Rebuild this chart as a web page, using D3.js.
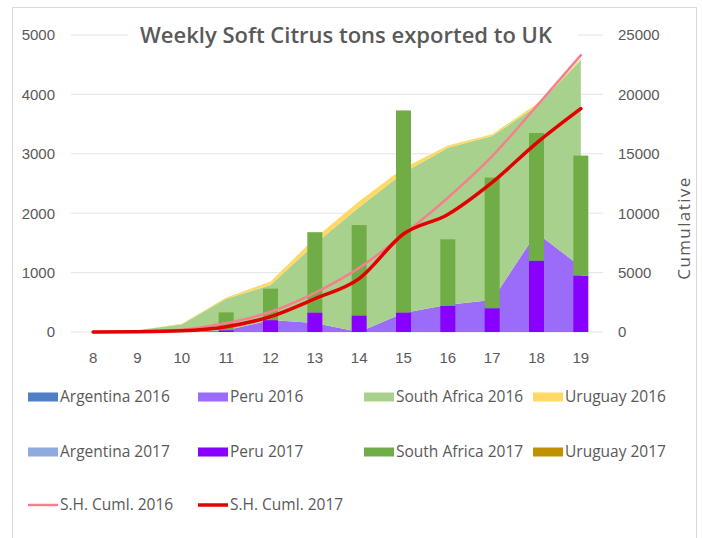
<!DOCTYPE html>
<html>
<head>
<meta charset="utf-8">
<script src="https://cdn.jsdelivr.net/npm/d3@7"></script>
<style>
  body { margin: 0; background: #fff; }
  svg { display: block; font-family: "Open Sans", sans-serif; }
</style>
</head>
<body>
<svg id="chart" width="702" height="538"></svg>
<script>
// weeks on the category axis
const weeks = [8, 9, 10, 11, 12, 13, 14, 15, 16, 17, 18, 19];

// 2016 season, weekly tons (stacked areas)
const argentina2016 = [0, 0, 0, 0, 0, 0, 0, 0, 0, 0, 0, 0];
const peru2016 = [0, 0, 0, 30, 200, 150, 0, 320, 460, 540, 1670, 1100];
const southAfrica2016 = [0, 30, 130, 530, 590, 1330, 2100, 2360, 2640, 2760, 2130, 3480];
const uruguay2016 = [0, 0, 10, 20, 60, 100, 100, 80, 40, 30, 40, 20];

// 2017 season, weekly tons (stacked bars)
const argentina2017 = [0, 0, 0, 0, 0, 0, 0, 0, 0, 0, 0, 0];
const peru2017 = [0, 0, 0, 30, 200, 330, 280, 330, 440, 400, 1200, 950];
const southAfrica2017 = [0, 0, 10, 300, 530, 1350, 1520, 3400, 1120, 2200, 2150, 2020];
const uruguay2017 = [0, 0, 0, 0, 0, 0, 0, 0, 0, 0, 0, 0];

// cumulative totals (secondary axis)
const cuml2016 = [0, 30, 180, 750, 1700, 3300, 5400, 8200, 11300, 14800, 19000, 23300];
const cuml2017 = [0, 20, 100, 450, 1300, 2800, 4500, 8250, 9900, 12600, 15900, 18800];

const leftTicks = [0, 1000, 2000, 3000, 4000, 5000];
const rightTicks = [0, 5000, 10000, 15000, 20000, 25000];

const series2016 = [
  { name: "Argentina 2016", values: argentina2016, color: "#4f7fc6" },
  { name: "Peru 2016", values: peru2016, color: "#9b6bfa" },
  { name: "South Africa 2016", values: southAfrica2016, color: "#a9d18e" },
  { name: "Uruguay 2016", values: uruguay2016, color: "#ffd966" },
];
const series2017 = [
  { name: "Argentina 2017", values: argentina2017, color: "#8faadc" },
  { name: "Peru 2017", values: peru2017, color: "#8800ff" },
  { name: "South Africa 2017", values: southAfrica2017, color: "#70ad47" },
  { name: "Uruguay 2017", values: uruguay2017, color: "#bf9000" },
];
const lines = [
  { name: "S.H. Cuml. 2016", values: cuml2016, color: "#f4808f", width: 2.5 },
  { name: "S.H. Cuml. 2017", values: cuml2017, color: "#e30000", width: 3.5 },
];

const TEXT = "#595959";
const svg = d3.select("#chart");

// outer chart border
svg.append("rect")
  .attr("x", 12.5).attr("y", 7.5)
  .attr("width", 684).attr("height", 535)
  .attr("fill", "#fff").attr("stroke", "#d9d9d9");

const x = d3.scaleBand().domain(weeks).range([71, 603]);
const cx = (w) => x(w) + x.bandwidth() / 2;
const yL = d3.scaleLinear().domain([0, 5000]).range([332, 35]);
const yR = d3.scaleLinear().domain([0, 25000]).range([332, 35]);

// gridlines
svg.append("g")
  .selectAll("line")
  .data(leftTicks)
  .join("line")
  .attr("x1", 71).attr("x2", 603)
  .attr("y1", (d) => yL(d)).attr("y2", (d) => yL(d))
  .attr("stroke", "#e4e4e4");

// 2016 stacked areas
const rows = weeks.map((w, i) => {
  const r = { week: w };
  series2016.forEach((s) => (r[s.name] = s.values[i]));
  series2017.forEach((s) => (r[s.name] = s.values[i]));
  return r;
});

const stack16 = d3.stack().keys(series2016.map((s) => s.name))(rows);
const area = d3.area()
  .x((d) => cx(d.data.week))
  .y0((d) => yL(d[0]))
  .y1((d) => yL(d[1]));

svg.append("g")
  .selectAll("path")
  .data(stack16)
  .join("path")
  .attr("d", area)
  .attr("fill", (d, i) => series2016[i].color);

// 2017 stacked bars
const stack17 = d3.stack().keys(series2017.map((s) => s.name))(rows);
const barW = 15;
svg.append("g")
  .selectAll("g")
  .data(stack17)
  .join("g")
  .attr("fill", (d, i) => series2017[i].color)
  .selectAll("rect")
  .data((d) => d)
  .join("rect")
  .attr("x", (d) => cx(d.data.week) - barW / 2)
  .attr("width", barW)
  .attr("y", (d) => yL(d[1]))
  .attr("height", (d) => yL(d[0]) - yL(d[1]));

// cumulative lines
const line = d3.line()
  .x((d, i) => cx(weeks[i]))
  .y((d) => yR(d))
  .curve(d3.curveMonotoneX);

svg.append("g")
  .selectAll("path")
  .data(lines)
  .join("path")
  .attr("d", (d) => line(d.values))
  .attr("fill", "none")
  .attr("stroke", (d) => d.color)
  .attr("stroke-width", (d) => d.width)
  .attr("stroke-linecap", "round")
  .attr("stroke-linejoin", "round");

// axes
const styleAxis = (g) => {
  g.select(".domain").remove();
  g.selectAll("text").attr("fill", TEXT).attr("font-size", 15);
};

svg.append("g")
  .attr("transform", "translate(71,0)")
  .call(d3.axisLeft(yL).tickValues(leftTicks).tickSize(0).tickPadding(16).tickFormat(d3.format("d")))
  .call(styleAxis);

svg.append("g")
  .attr("transform", "translate(603,0)")
  .call(d3.axisRight(yR).tickValues(rightTicks).tickSize(0).tickPadding(15).tickFormat(d3.format("d")))
  .call(styleAxis);

svg.append("g")
  .attr("transform", "translate(0,332)")
  .call(d3.axisBottom(x).tickSize(0).tickPadding(20))
  .call(styleAxis);

svg.append("text")
  .attr("transform", "translate(690,228) rotate(-90)")
  .attr("text-anchor", "middle")
  .attr("font-size", 17)
  .attr("letter-spacing", 1.4)
  .attr("fill", TEXT)
  .text("Cumulative");

// title with its white box
svg.append("rect")
  .attr("x", 128).attr("y", 18)
  .attr("width", 450).attr("height", 34)
  .attr("fill", "#fff");
svg.append("text")
  .attr("x", 346).attr("y", 43)
  .attr("text-anchor", "middle")
  .attr("font-size", 22)
  .attr("font-weight", 600)
  .attr("fill", TEXT)
  .text("Weekly Soft Citrus tons exported to UK");

// legend
const colX = [28, 198, 364, 533];
const rowY = [397, 452, 505];
const legendItems = [
  ...series2016.map((s, i) => ({ ...s, type: "box", col: i, row: 0 })),
  ...series2017.map((s, i) => ({ ...s, type: "box", col: i, row: 1 })),
  ...lines.map((s, i) => ({ ...s, type: "line", col: i, row: 2 })),
];

const leg = svg.append("g")
  .selectAll("g")
  .data(legendItems)
  .join("g")
  .attr("transform", (d) => `translate(${colX[d.col]},${rowY[d.row]})`);

leg.filter((d) => d.type === "box")
  .append("rect")
  .attr("x", 0).attr("y", -4.5)
  .attr("width", 30).attr("height", 9)
  .attr("fill", (d) => d.color);

leg.filter((d) => d.type === "line")
  .append("line")
  .attr("x1", 0).attr("x2", 30)
  .attr("stroke", (d) => d.color)
  .attr("stroke-width", (d) => d.width);

leg.append("text")
  .attr("x", 32)
  .attr("dy", "0.35em")
  .attr("font-size", 15.5)
  .attr("fill", TEXT)
  .text((d) => d.name);
</script>
</body>
</html>
